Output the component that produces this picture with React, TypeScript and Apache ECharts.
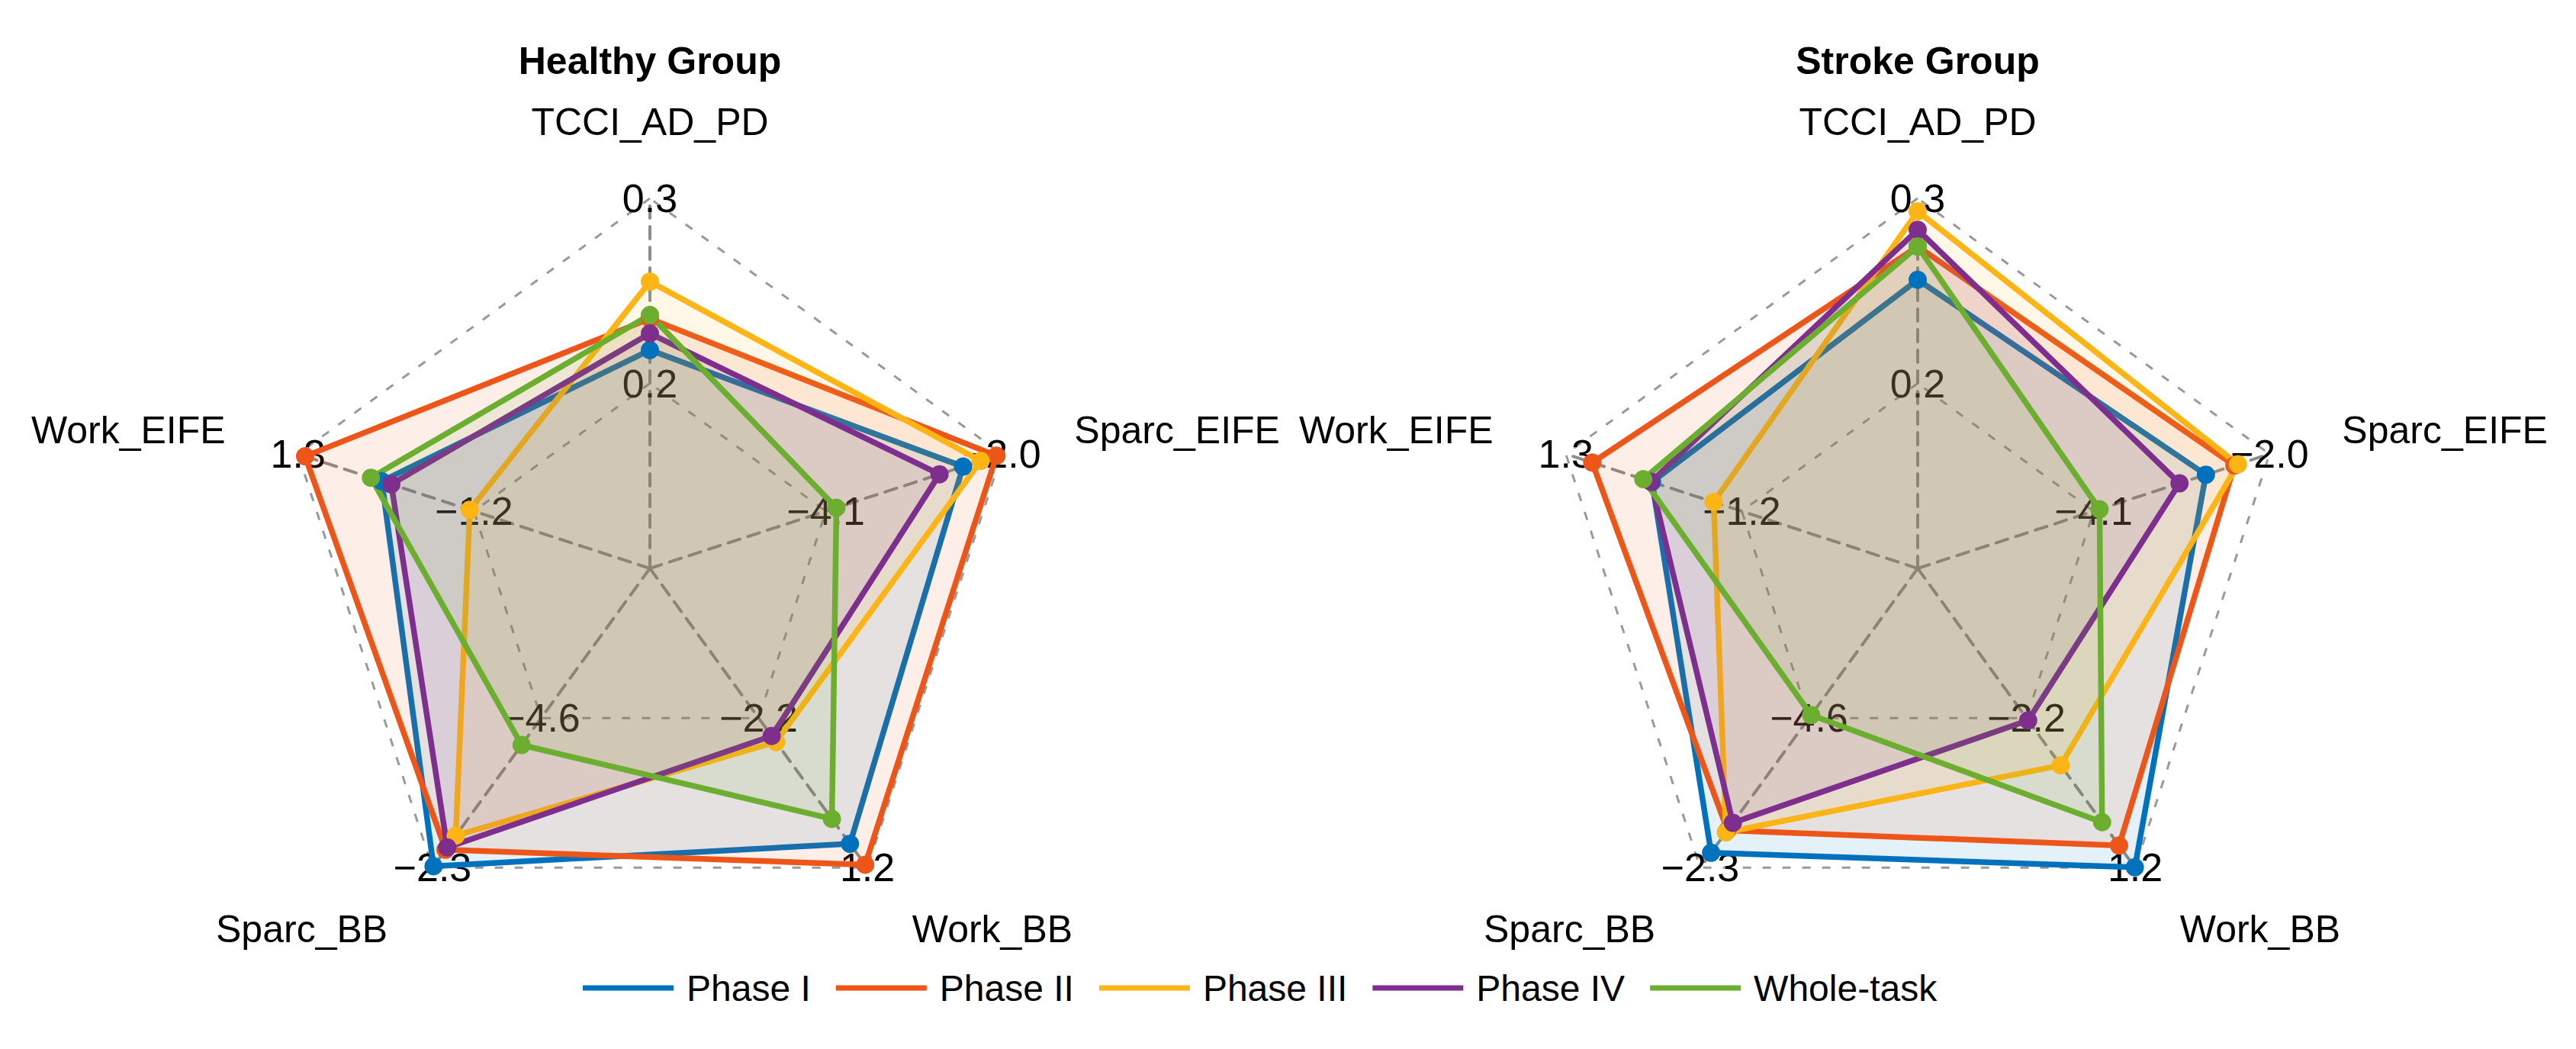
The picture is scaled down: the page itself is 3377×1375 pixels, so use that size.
import React, { useEffect, useRef } from "react";
import * as echarts from "echarts";

const indicatorNames = ["TCCI_AD_PD", "Work_EIFE", "Sparc_BB", "Work_BB", "Sparc_EIFE"];
const axisMin = [0.1, -3.7, -6.9, -5.6, -6.2];
const axisMax = [0.3, 1.3, -2.3, 1.2, -2.0];

const seriesNames = ["Phase I", "Phase II", "Phase III", "Phase IV", "Whole-task"];
const seriesColors = ["#0072BD", "#EE5519", "#FDB515", "#7E2F8E", "#6CAE2F"];

// order: TCCI_AD_PD, Work_EIFE, Sparc_BB, Work_BB, Sparc_EIFE
const healthyPhase1 = [0.218, 0.11, -2.323, 0.656, -2.462];
const healthyPhase2 = [0.235, 1.2, -2.576, 1.132, -2.063];
const healthyPhase3 = [0.255, -1.14, -2.792, -1.656, -2.252];
const healthyPhase4 = [0.227, -0.025, -2.613, -1.792, -2.743];
const healthyWhole = [0.237, 0.265, -4.186, 0.092, -3.974];

const strokePhase1 = [0.256, 0.075, -2.53, 1.19, -2.76];
const strokePhase2 = [0.274, 0.925, -2.875, 0.697, -2.42];
const strokePhase3 = [0.293, -0.8, -2.843, -1.126, -2.378];
const strokePhase4 = [0.283, 0.09, -2.99, -2.146, -3.075];
const strokeWhole = [0.274, 0.2, -4.646, 0.166, -4.029];

const groupTitles = ["Healthy Group", "Stroke Group"];
const groupData = [
  [healthyPhase1, healthyPhase2, healthyPhase3, healthyPhase4, healthyWhole],
  [strokePhase1, strokePhase2, strokePhase3, strokePhase4, strokeWhole],
];

const FONT = "Liberation Sans, Arial, sans-serif";
const centers = [[852, 745], [2514, 745]];
const RADIUS = 485;

export default function App() {
  const ref = useRef<HTMLDivElement>(null);
  useEffect(() => {
    document.body.style.margin = "0";
    if (!ref.current) return;
    const chart = echarts.init(ref.current, undefined, { renderer: "svg" });
    const fmt = (v: number, i: number) => {
      if (i === 0) return "";
      return v.toFixed(1).replace("-", "\u2212");
    };
    const radars = centers.map((c) => ({
      center: [c[0], c[1]],
      radius: RADIUS,
      startAngle: 90,
      shape: "polygon",
      splitNumber: 2,
      indicator: indicatorNames.map((n, i) => ({ name: n, min: axisMin[i], max: axisMax[i] })),
      axisName: { color: "#000", fontSize: 50, fontFamily: FONT, lineHeight: 1 },
      nameGap: 100,
      axisLine: { show: true, lineStyle: { color: "#8c8c8c", width: 4, type: [16, 11] } },
      axisTick: { show: false },
      axisLabel: {
        show: true,
        margin: 0,
        align: "center",
        verticalAlign: "middle",
        color: "#000",
        fontSize: 52,
        fontFamily: FONT,
        formatter: fmt,
      },
      splitLine: { show: true, lineStyle: { color: "#9a9a9a", width: 3, type: [11, 15] } },
      splitArea: { show: false },
    }));
    const series = groupData.map((g, gi) => ({
      type: "radar",
      radarIndex: gi,
      symbol: "circle",
      symbolSize: 24,
      data: g.map((vals, si) => ({
        name: seriesNames[si],
        value: vals,
        itemStyle: { color: seriesColors[si] },
        lineStyle: { color: seriesColors[si], width: 7.5 },
        areaStyle: { color: seriesColors[si], opacity: 0.1 },
      })),
    }));
    chart.setOption({
      animation: false,
      backgroundColor: "#fff",
      radar: radars,
      series,
      legend: {
        data: seriesNames,
        left: 759,
        top: 1266,
        icon: "rect",
        itemWidth: 119,
        itemHeight: 7,
        itemGap: 33,
        textStyle: { color: "#000", fontSize: 48, fontFamily: FONT, padding: [0, 0, 0, 12] },
      },
      graphic: groupTitles.map((t, i) => ({
        type: "text",
        x: centers[i][0],
        y: 80,
        style: {
          text: t,
          fontSize: 50,
          fontWeight: "bold",
          fontFamily: FONT,
          fill: "#000",
          textAlign: "center",
          textVerticalAlign: "middle",
        },
      })),
    });
    return () => chart.dispose();
  }, []);
  return <div ref={ref} style={{ width: 3377, height: 1375 }} />;
}
